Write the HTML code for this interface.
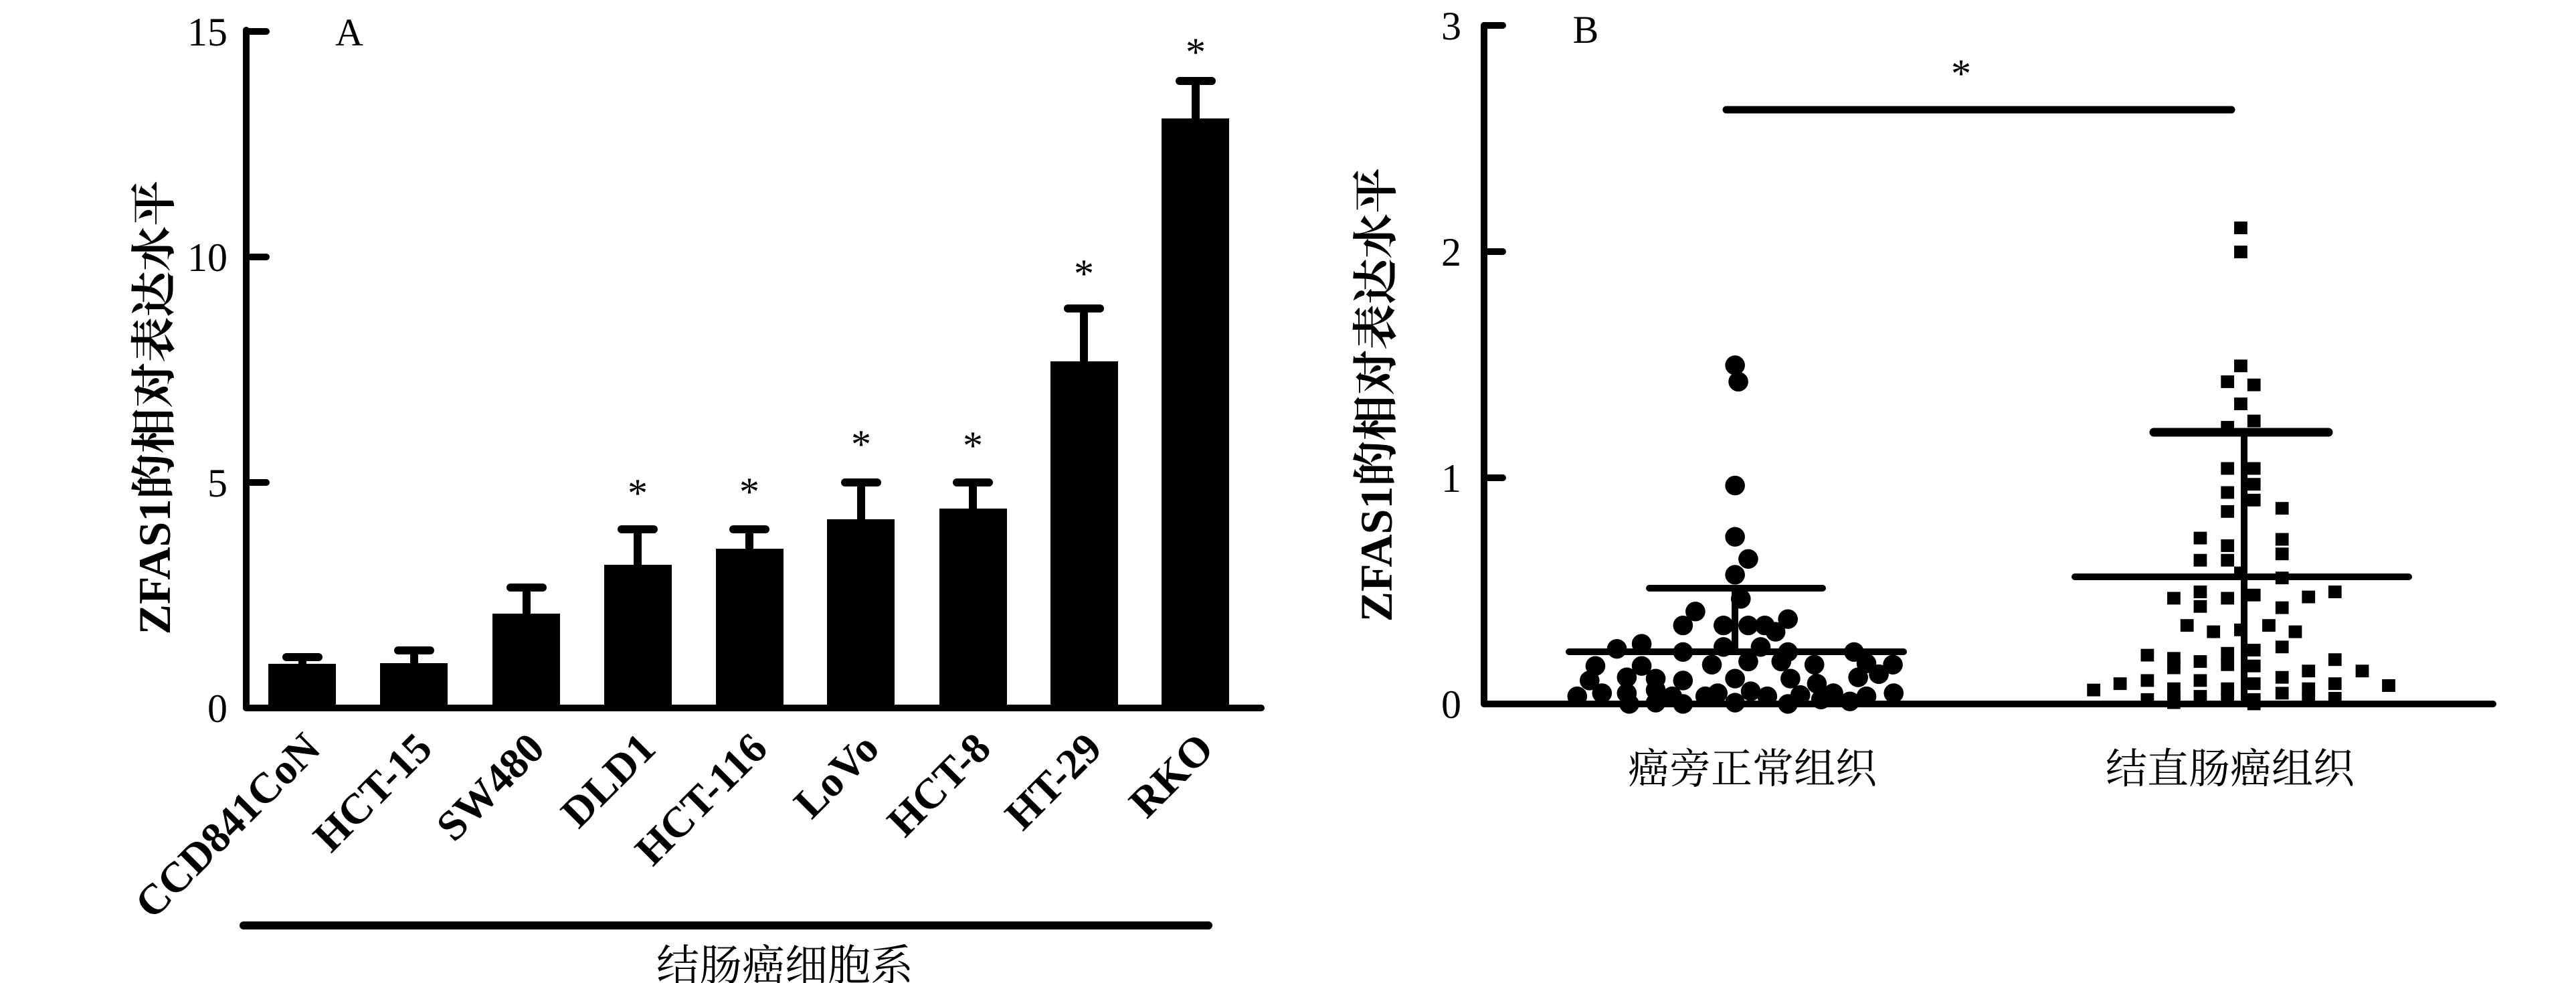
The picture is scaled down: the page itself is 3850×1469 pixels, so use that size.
<!DOCTYPE html>
<html><head><meta charset="utf-8"><style>
html,body{margin:0;padding:0;background:#fff;}
svg{display:block;}
text{font-family:"Liberation Serif","Noto Serif CJK SC","Noto Sans CJK SC",serif;fill:#000;}
</style></head><body>
<svg width="3850" height="1469" viewBox="0 0 3850 1469" xmlns="http://www.w3.org/2000/svg">
<g stroke="#000" stroke-width="10" stroke-linecap="round" fill="none">
<line x1="368" y1="45" x2="368" y2="1058"/>
<line x1="368" y1="1058" x2="1885" y2="1058"/>
<line x1="368" y1="47" x2="398" y2="47"/>
<line x1="368" y1="384" x2="398" y2="384"/>
<line x1="368" y1="721" x2="398" y2="721"/>
<line x1="364" y1="1383" x2="1806" y2="1383" stroke-width="12"/>
</g>
<g font-size="60" text-anchor="end">
<text x="340" y="68">15</text><text x="340" y="405">10</text><text x="340" y="742">5</text><text x="340" y="1079">0</text>
</g>
<text x="522" y="68" font-size="58" text-anchor="middle">A</text>
<text transform="translate(254,609) rotate(-90)" font-size="68" font-weight="bold" text-anchor="middle">ZFAS1的相对表达水平</text>
<g fill="#000">
<rect x="401" y="992" width="101" height="66"/>
<rect x="568" y="991" width="101" height="67"/>
<rect x="736" y="917" width="101" height="141"/>
<rect x="903" y="844" width="101" height="214"/>
<rect x="1070" y="820" width="101" height="238"/>
<rect x="1236" y="776" width="101" height="282"/>
<rect x="1404" y="760" width="101" height="298"/>
<rect x="1570" y="540" width="101" height="518"/>
<rect x="1736" y="177" width="101" height="881"/>
</g>
<g stroke="#000" stroke-width="12" stroke-linecap="round">
<line x1="452" y1="992" x2="452" y2="982"/><line x1="428" y1="982" x2="476" y2="982"/>
<line x1="619" y1="991" x2="619" y2="972"/><line x1="595" y1="972" x2="643" y2="972"/>
<line x1="787" y1="917" x2="787" y2="878"/><line x1="763" y1="878" x2="811" y2="878"/>
<line x1="953" y1="844" x2="953" y2="791"/><line x1="929" y1="791" x2="977" y2="791"/>
<line x1="1120" y1="820" x2="1120" y2="791"/><line x1="1096" y1="791" x2="1144" y2="791"/>
<line x1="1287" y1="776" x2="1287" y2="721"/><line x1="1263" y1="721" x2="1311" y2="721"/>
<line x1="1454" y1="760" x2="1454" y2="721"/><line x1="1430" y1="721" x2="1478" y2="721"/>
<line x1="1620" y1="540" x2="1620" y2="461"/><line x1="1596" y1="461" x2="1644" y2="461"/>
<line x1="1787" y1="177" x2="1787" y2="121"/><line x1="1763" y1="121" x2="1811" y2="121"/>
</g>
<g font-size="60" text-anchor="middle">
<text x="953" y="757">*</text><text x="1120" y="755">*</text><text x="1287" y="684">*</text><text x="1454" y="686">*</text><text x="1620" y="429">*</text><text x="1787" y="98">*</text>
</g>
<g font-size="64" font-weight="bold" text-anchor="end">
<text transform="translate(482,1122) rotate(-45)">CCD841CoN</text>
<text transform="translate(649,1122) rotate(-45)">HCT-15</text>
<text transform="translate(817,1122) rotate(-45)">SW480</text>
<text transform="translate(983,1122) rotate(-45)">DLD1</text>
<text transform="translate(1150,1122) rotate(-45)">HCT-116</text>
<text transform="translate(1317,1122) rotate(-45)">LoVo</text>
<text transform="translate(1484,1122) rotate(-45)">HCT-8</text>
<text transform="translate(1650,1122) rotate(-45)">HT-29</text>
<text transform="translate(1817,1122) rotate(-45)">RKO</text>
</g>
<text x="1173" y="1465" font-size="64" text-anchor="middle">结肠癌细胞系</text>

<g stroke="#000" stroke-width="10" stroke-linecap="round" fill="none">
<line x1="2218" y1="38" x2="2218" y2="1052"/>
<line x1="2218" y1="1052" x2="3726" y2="1052"/>
<line x1="2218" y1="38" x2="2246" y2="38"/>
<line x1="2218" y1="376" x2="2246" y2="376"/>
<line x1="2218" y1="714" x2="2246" y2="714"/>
<line x1="2580" y1="164" x2="3335" y2="164" stroke-width="11"/>
</g>
<g font-size="60" text-anchor="end">
<text x="2184" y="59">3</text><text x="2184" y="397">2</text><text x="2184" y="735">1</text><text x="2184" y="1073">0</text>
</g>
<text x="2370" y="64" font-size="58" text-anchor="middle">B</text>
<text x="2931" y="130" font-size="60" text-anchor="middle">*</text>
<text transform="translate(2080,590) rotate(-90)" font-size="68" font-weight="bold" text-anchor="middle">ZFAS1的相对表达水平</text>
<g font-size="62" text-anchor="middle">
<text x="2619" y="1170">癌旁正常组织</text>
<text x="3333" y="1170">结直肠癌组织</text>
</g>
<g transform="translate(1925 0) scale(1.235 0.946)" fill="#000">
<g>
<ellipse cx="541" cy="577" rx="12" ry="15.5"/><ellipse cx="545" cy="603" rx="12" ry="15.5"/><ellipse cx="541" cy="767" rx="12" ry="15.5"/><ellipse cx="541" cy="848" rx="12" ry="15.5"/><ellipse cx="557" cy="883" rx="12" ry="15.5"/><ellipse cx="541" cy="908" rx="12" ry="15.5"/><ellipse cx="548" cy="946" rx="12" ry="15.5"/><ellipse cx="493" cy="966" rx="12" ry="15.5"/><ellipse cx="478" cy="988" rx="12" ry="15.5"/><ellipse cx="527" cy="988" rx="12" ry="15.5"/><ellipse cx="557" cy="988" rx="12" ry="15.5"/><ellipse cx="577" cy="988" rx="12" ry="15.5"/><ellipse cx="605" cy="978" rx="12" ry="15.5"/><ellipse cx="590" cy="998" rx="12" ry="15.5"/><ellipse cx="398" cy="1025" rx="12" ry="15.5"/><ellipse cx="428" cy="1017" rx="12" ry="15.5"/><ellipse cx="478" cy="1030" rx="12" ry="15.5"/><ellipse cx="527" cy="1022" rx="12" ry="15.5"/><ellipse cx="572" cy="1022" rx="12" ry="15.5"/><ellipse cx="605" cy="1030" rx="12" ry="15.5"/><ellipse cx="685" cy="1030" rx="12" ry="15.5"/><ellipse cx="372" cy="1052" rx="12" ry="15.5"/><ellipse cx="428" cy="1052" rx="12" ry="15.5"/><ellipse cx="513" cy="1050" rx="12" ry="15.5"/><ellipse cx="557" cy="1045" rx="12" ry="15.5"/><ellipse cx="597" cy="1045" rx="12" ry="15.5"/><ellipse cx="637" cy="1050" rx="12" ry="15.5"/><ellipse cx="700" cy="1048" rx="12" ry="15.5"/><ellipse cx="732" cy="1050" rx="12" ry="15.5"/><ellipse cx="365" cy="1075" rx="12" ry="15.5"/><ellipse cx="410" cy="1070" rx="12" ry="15.5"/><ellipse cx="445" cy="1072" rx="12" ry="15.5"/><ellipse cx="478" cy="1075" rx="12" ry="15.5"/><ellipse cx="541" cy="1072" rx="12" ry="15.5"/><ellipse cx="608" cy="1072" rx="12" ry="15.5"/><ellipse cx="640" cy="1080" rx="12" ry="15.5"/><ellipse cx="690" cy="1070" rx="12" ry="15.5"/><ellipse cx="715" cy="1065" rx="12" ry="15.5"/><ellipse cx="350" cy="1100" rx="12" ry="15.5"/><ellipse cx="380" cy="1095" rx="12" ry="15.5"/><ellipse cx="410" cy="1095" rx="12" ry="15.5"/><ellipse cx="445" cy="1090" rx="12" ry="15.5"/><ellipse cx="465" cy="1100" rx="12" ry="15.5"/><ellipse cx="505" cy="1100" rx="12" ry="15.5"/><ellipse cx="520" cy="1095" rx="12" ry="15.5"/><ellipse cx="560" cy="1092" rx="12" ry="15.5"/><ellipse cx="580" cy="1100" rx="12" ry="15.5"/><ellipse cx="620" cy="1098" rx="12" ry="15.5"/><ellipse cx="660" cy="1095" rx="12" ry="15.5"/><ellipse cx="700" cy="1100" rx="12" ry="15.5"/><ellipse cx="733" cy="1095" rx="12" ry="15.5"/><ellipse cx="413" cy="1112" rx="12" ry="15.5"/><ellipse cx="445" cy="1110" rx="12" ry="15.5"/><ellipse cx="478" cy="1112" rx="12" ry="15.5"/><ellipse cx="541" cy="1110" rx="12" ry="15.5"/><ellipse cx="605" cy="1112" rx="12" ry="15.5"/><ellipse cx="645" cy="1105" rx="12" ry="15.5"/><ellipse cx="680" cy="1108" rx="12" ry="15.5"/>
</g>
<g transform="translate(-8 -10)">
<rect x="1153" y="360" width="16" height="20"/><rect x="1153" y="398" width="16" height="20"/><rect x="1153" y="578" width="16" height="20"/><rect x="1137" y="603" width="16" height="20"/><rect x="1169" y="608" width="16" height="20"/><rect x="1153" y="638" width="16" height="20"/><rect x="1137" y="675" width="16" height="20"/><rect x="1169" y="665" width="16" height="20"/><rect x="1137" y="740" width="16" height="20"/><rect x="1169" y="740" width="16" height="20"/><rect x="1137" y="778" width="16" height="20"/><rect x="1169" y="765" width="16" height="20"/><rect x="1137" y="808" width="16" height="20"/><rect x="1169" y="790" width="16" height="20"/><rect x="1203" y="803" width="16" height="20"/><rect x="1104" y="850" width="16" height="20"/><rect x="1137" y="862" width="16" height="20"/><rect x="1203" y="852" width="16" height="20"/><rect x="1104" y="885" width="16" height="20"/><rect x="1137" y="885" width="16" height="20"/><rect x="1203" y="875" width="16" height="20"/><rect x="1153" y="905" width="16" height="20"/><rect x="1203" y="913" width="16" height="20"/><rect x="1072" y="945" width="16" height="20"/><rect x="1104" y="935" width="16" height="20"/><rect x="1137" y="945" width="16" height="20"/><rect x="1169" y="940" width="16" height="20"/><rect x="1235" y="943" width="16" height="20"/><rect x="1267" y="935" width="16" height="20"/><rect x="1104" y="958" width="16" height="20"/><rect x="1203" y="960" width="16" height="20"/><rect x="1088" y="988" width="16" height="20"/><rect x="1120" y="998" width="16" height="20"/><rect x="1153" y="995" width="16" height="20"/><rect x="1187" y="988" width="16" height="20"/><rect x="1219" y="998" width="16" height="20"/><rect x="1040" y="1035" width="16" height="20"/><rect x="1072" y="1040" width="16" height="20"/><rect x="1137" y="1032" width="16" height="20"/><rect x="1169" y="1027" width="16" height="20"/><rect x="1203" y="1022" width="16" height="20"/><rect x="1072" y="1055" width="16" height="20"/><rect x="1104" y="1045" width="16" height="20"/><rect x="1137" y="1050" width="16" height="20"/><rect x="1169" y="1052" width="16" height="20"/><rect x="1235" y="1060" width="16" height="20"/><rect x="1267" y="1042" width="16" height="20"/><rect x="1300" y="1060" width="16" height="20"/><rect x="975" y="1090" width="16" height="20"/><rect x="1007" y="1080" width="16" height="20"/><rect x="1040" y="1075" width="16" height="20"/><rect x="1072" y="1088" width="16" height="20"/><rect x="1104" y="1075" width="16" height="20"/><rect x="1137" y="1088" width="16" height="20"/><rect x="1169" y="1080" width="16" height="20"/><rect x="1203" y="1070" width="16" height="20"/><rect x="1235" y="1088" width="16" height="20"/><rect x="1267" y="1080" width="16" height="20"/><rect x="1332" y="1083" width="16" height="20"/><rect x="1040" y="1105" width="16" height="20"/><rect x="1072" y="1105" width="16" height="20"/><rect x="1104" y="1100" width="16" height="20"/><rect x="1137" y="1105" width="16" height="20"/><rect x="1169" y="1105" width="16" height="20"/><rect x="1203" y="1095" width="16" height="20"/><rect x="1235" y="1105" width="16" height="20"/><rect x="1267" y="1103" width="16" height="20"/><rect x="1072" y="1110" width="16" height="20"/><rect x="1169" y="1112" width="16" height="20"/>
</g>
</g>
<g stroke="#000" stroke-width="10" stroke-linecap="round">
<line x1="2345" y1="974" x2="2845" y2="974"/>
<line x1="2593" y1="974" x2="2593" y2="879"/>
<line x1="2465" y1="879" x2="2724" y2="879"/>
<line x1="3101" y1="862" x2="3600" y2="862"/>
<line x1="3354" y1="1052" x2="3354" y2="646"/>
<line x1="3219" y1="646" x2="3480" y2="646" stroke-width="13"/>
</g>
</svg>
</body></html>
